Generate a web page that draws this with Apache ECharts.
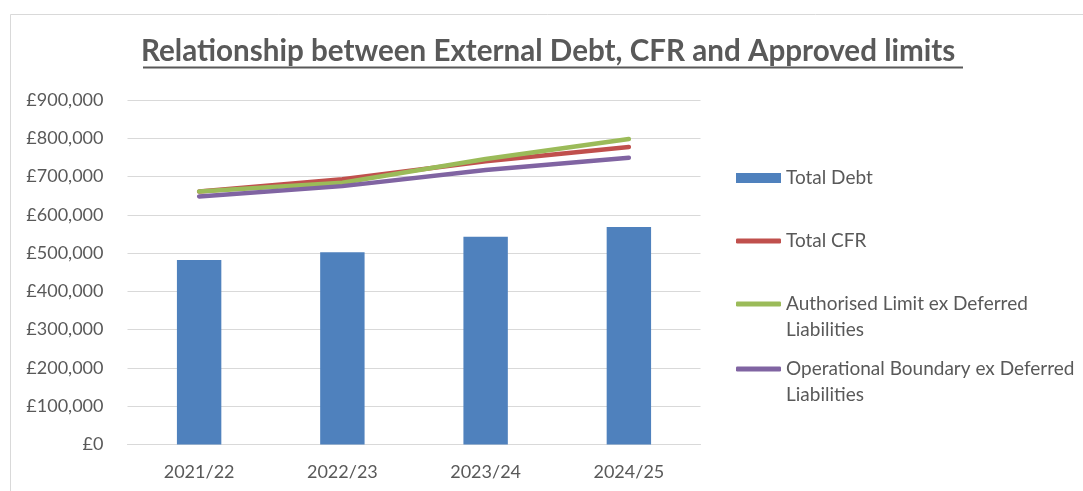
<!DOCTYPE html>
<html>
<head>
<meta charset="utf-8">
<script src="https://cdn.jsdelivr.net/npm/echarts@6/dist/echarts.min.js"></script>
<style>
html,body{margin:0;padding:0;background:#fff;}
#chart{width:1083px;height:491px;}
</style>
</head>
<body>
<div id="chart"></div>
<script>
const titleText = 'Relationship between External Debt, CFR and Approved limits';
const categories = ['2021/22', '2022/23', '2023/24', '2024/25'];
const totalDebt = [482000, 502000, 543000, 568000];
const totalCFR = [661000, 693000, 740000, 777000];
const authorisedLimit = [661000, 684000, 746000, 798000];
const operationalBoundary = [648000, 675000, 717000, 749000];
const seriesNames = ['Total Debt', 'Total CFR', 'Authorised Limit ex Deferred Liabilities', 'Operational Boundary ex Deferred Liabilities'];
const yTicks = { min: 0, max: 900000, interval: 100000 };

const FONT = 'Lato, "Open Sans", sans-serif';
const TXT = '#595959';
const chart = echarts.init(document.getElementById('chart'));

function makeLegend(name, top, icon, h, twoLine) {
  return {
    data: [{ name: name, icon: icon }],
    orient: 'vertical', left: 736, top: top, padding: 0,
    itemWidth: 45, itemHeight: h, selectedMode: false,
    // wrapped names: a blank leading line keeps the icon beside the first line
    formatter: twoLine ? (n => '\n' + n.replace(' Liabilities', '\nLiabilities')) : (n => n),
    textStyle: { color: TXT, fontSize: 19, fontFamily: FONT, lineHeight: 25.5 }
  };
}

chart.setOption({
  backgroundColor: '#fff',
  animation: false,
  title: {
    text: titleText, left: 141, top: 36, padding: 0,
    textStyle: { color: TXT, fontSize: 29.6, fontWeight: 'bold', fontFamily: FONT }
  },
  graphic: [
    { type: 'rect', silent: true, shape: { x: 10.5, y: 14.5, width: 1100, height: 500 },
      style: { fill: 'none', stroke: '#d9d9d9', lineWidth: 1 } },
    { type: 'rect', silent: true, shape: { x: 143, y: 66.5, width: 820, height: 2 },
      style: { fill: TXT } }
  ],
  legend: [
    makeLegend(seriesNames[0], 178 - 12.75, 'rect', 10, false),
    makeLegend(seriesNames[1], 241 - 12.75, 'roundRect', 5, false),
    makeLegend(seriesNames[2], 304 - 38.25, 'roundRect', 5, true),
    makeLegend(seriesNames[3], 369 - 38.25, 'roundRect', 5, true)
  ],
  grid: { left: 127.5, right: 382.5, top: 100, bottom: 46.5, containLabel: false },
  xAxis: {
    type: 'category', data: categories,
    axisLine: { lineStyle: { color: '#d9d9d9', width: 1 } },
    axisTick: { show: false },
    axisLabel: { color: TXT, fontSize: 18, fontFamily: FONT, margin: 19 }
  },
  yAxis: {
    type: 'value', min: yTicks.min, max: yTicks.max, interval: yTicks.interval,
    axisLine: { show: false }, axisTick: { show: false },
    splitLine: { lineStyle: { color: '#d9d9d9', width: 1 } },
    axisLabel: {
      color: TXT, fontSize: 18, fontFamily: FONT, margin: 24,
      formatter: v => '£' + v.toLocaleString('en-GB')
    }
  },
  series: [
    { name: seriesNames[0], type: 'bar', data: totalDebt, barWidth: '31%',
      itemStyle: { color: '#4F81BD' } },
    { name: seriesNames[1], type: 'line', data: totalCFR, symbol: 'none',
      lineStyle: { color: '#C0504D', width: 4.5, cap: 'round' }, itemStyle: { color: '#C0504D' } },
    { name: seriesNames[2], type: 'line', data: authorisedLimit, symbol: 'none',
      lineStyle: { color: '#9BBB59', width: 4.5, cap: 'round' }, itemStyle: { color: '#9BBB59' } },
    { name: seriesNames[3], type: 'line', data: operationalBoundary, symbol: 'none',
      lineStyle: { color: '#8064A2', width: 4.5, cap: 'round' }, itemStyle: { color: '#8064A2' } }
  ]
});
</script>
</body>
</html>
